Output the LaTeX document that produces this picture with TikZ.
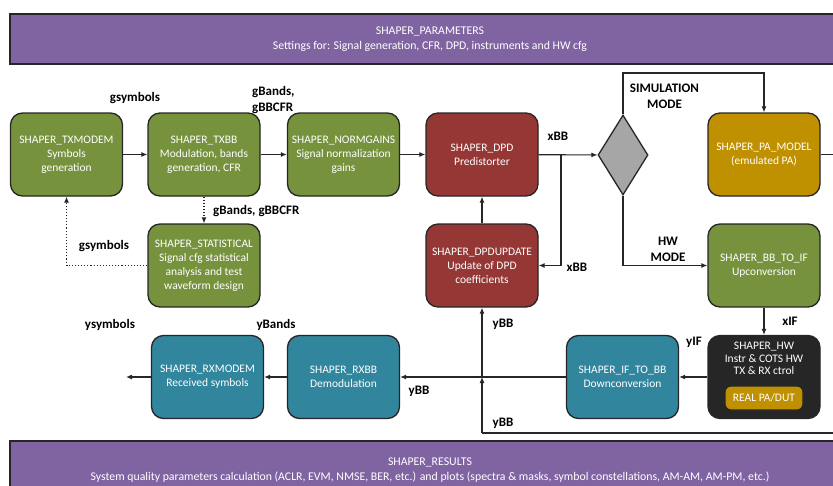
\documentclass[tikz,border=0pt]{standalone}
\usepackage{fontspec}
\setmainfont{Carlito}
\usetikzlibrary{arrows.meta,shapes.geometric}
\definecolor{cgreen}{HTML}{76923C}
\definecolor{cred}{HTML}{953735}
\definecolor{cgold}{HTML}{BF9000}
\definecolor{cteal}{HTML}{31859C}
\definecolor{cpurple}{HTML}{8064A2}
\definecolor{cdark}{HTML}{262626}
\definecolor{cgrey}{HTML}{A6A6A6}
\tikzset{
  blk/.style={draw=cdark, line width=1.3pt, rounded corners=12pt,
    minimum width=112pt, minimum height=83pt, text=white, align=center,
    font=\fontsize{11.5}{14}\selectfont, inner sep=0pt},
  bar/.style={draw=cdark, line width=1.2pt, fill=cpurple, text=white, align=center,
    font=\fontsize{11.8}{15}\selectfont, inner sep=0pt},
  lbl/.style={font=\bfseries\fontsize{13}{16}\selectfont, align=center, inner sep=0pt},
  conn/.style={line width=1.1pt, draw=cdark, -{Latex[length=6pt,width=5pt]}},
  plain/.style={line width=1.1pt, draw=cdark},
  dconn/.style={line width=1.1pt, draw=cdark, dotted, -{Latex[length=6pt,width=5pt]}},
}
\begin{document}
\begin{tikzpicture}[x=1pt,y=-1pt]
\useasboundingbox (0,0) rectangle (833,485);
\clip (0,0) rectangle (833,485);

% bars
\node[bar, minimum width=840pt, minimum height=50pt] (params) at (430,39)
  {SHAPER\_PARAMETERS\\Settings for: Signal generation, CFR, DPD, instruments and HW cfg};
\node[bar, minimum width=840pt, minimum height=58pt] (results) at (430,470)
  {SHAPER\_RESULTS\\System quality parameters calculation (ACLR, EVM, NMSE, BER, etc.) and plots (spectra \& masks, symbol constellations, AM-AM, AM-PM, etc.)};

% row 1
\node[blk, fill=cgreen] (txmodem) at (66.5,154.5) {SHAPER\_TXMODEM\\Symbols\\generation};
\node[blk, fill=cgreen] (txbb) at (204,154.5) {SHAPER\_TXBB\\Modulation, bands\\generation, CFR};
\node[blk, fill=cgreen] (norm) at (343.5,154.5) {SHAPER\_NORMGAINS\\Signal normalization\\gains};
\node[blk, fill=cred] (dpd) at (482,154.5) {SHAPER\_DPD\\Predistorter};
\node[diamond, draw=cdark, line width=1.3pt, fill=cgrey, minimum width=50pt,
  minimum height=80pt, inner sep=0pt] (dia) at (623,155) {};
\node[blk, fill=cgold] (pa) at (764,154.5) {SHAPER\_PA\_MODEL\\(emulated PA)};

% row 2
\node[blk, fill=cgreen] (stat) at (204,265.5) {SHAPER\_STATISTICAL\\Signal cfg statistical\\analysis and test\\waveform design};
\node[blk, fill=cred] (dpdup) at (482,265.5) {SHAPER\_DPDUPDATE\\Update of DPD\\coefficients};
\node[blk, fill=cgreen] (bbif) at (764,265.5) {SHAPER\_BB\_TO\_IF\\Upconversion};

% row 3
\node[blk, fill=cteal] (rxmodem) at (207.5,377) {SHAPER\_RXMODEM\\Received symbols};
\node[blk, fill=cteal] (rxbb) at (343.5,377) {SHAPER\_RXBB\\Demodulation};
\node[blk, fill=cteal] (ifbb) at (622.5,377) {SHAPER\_IF\_TO\_BB\\Downconversion};
\node[blk, fill=cdark] (hw) at (764,377) {};
\node[text=white, align=center, font=\fontsize{11.5}{12.5}\selectfont, inner sep=0pt]
  (hwtxt) at (764,358.5) {SHAPER\_HW\\Instr \& COTS HW\\TX \& RX ctrol};
\node[draw=cdark, line width=1.2pt, fill=cgold, rounded corners=6pt, minimum width=78pt,
  minimum height=24pt, text=white, font=\fontsize{11.5}{14}\selectfont, inner sep=0pt]
  (real) at (764,398) {REAL PA/DUT};

% coordinates
\coordinate (xbr) at (561,154.5);
\coordinate (simtopL) at (623,73);
\coordinate (simtopR) at (764,73);
\coordinate (hwbot) at (623,265.5);
\coordinate (jn) at (482,377);
\coordinate (paR) at (850,154.5);
\coordinate (paRB) at (850,433);
\coordinate (botL) at (482,433);
\coordinate (rxout) at (126,377);
\coordinate (gcorner) at (66.5,265.5);

% connectors
\draw[conn] (txmodem) -- (txbb);
\draw[conn] (txbb) -- (norm);
\draw[conn] (norm) -- (dpd);
\draw[conn] (dpd) -- (dia);
\draw[conn] (xbr) |- (dpdup.east);
\draw[conn] (dpdup) -- (dpd);
\draw[conn] (dia.north) -- (simtopL) -- (simtopR) -- (pa.north);
\draw[conn] (dia.south) -- (hwbot) -- (bbif.west);
\draw[conn] (bbif) -- (hw);
\draw[conn] (hw) -- (ifbb);
\draw[conn] (ifbb) -- (rxbb);
\draw[conn] (rxbb) -- (rxmodem);
\draw[conn] (rxmodem) -- (rxout);
\draw[plain] (pa.east) -- (paR) -- (paRB) -- (botL);
\draw[conn] (botL) -- (jn);
\draw[conn] (jn) -- (dpdup.south);
\draw[dconn] (txbb) -- (stat);
\draw[dconn] (stat.west) -- (gcorner) -- (txmodem.south);

% labels
\node[lbl] (l1) at (135,98) {gsymbols};
\node[lbl, align=left, anchor=west] (l2) at (252,100) {gBands,\\gBBCFR};
\node[lbl, anchor=west] (l3) at (213,211) {gBands, gBBCFR};
\node[lbl] (l4) at (104,246) {gsymbols};
\node[lbl] (l5) at (558,136) {xBB};
\node[lbl] (l6) at (577,267) {xBB};
\node[lbl] (l7) at (664.5,96.5) {SIMULATION\\MODE};
\node[lbl] (l8) at (668,249.5) {HW\\MODE};
\node[lbl] (l9) at (790,321) {xIF};
\node[lbl] (l10) at (694,342) {yIF};
\node[lbl] (l11) at (503,324) {yBB};
\node[lbl] (l12) at (503,423) {yBB};
\node[lbl] (l13) at (419,391) {yBB};
\node[lbl] (l14) at (110,325) {ysymbols};
\node[lbl] (l15) at (276,325) {yBands};
\end{tikzpicture}
\end{document}
